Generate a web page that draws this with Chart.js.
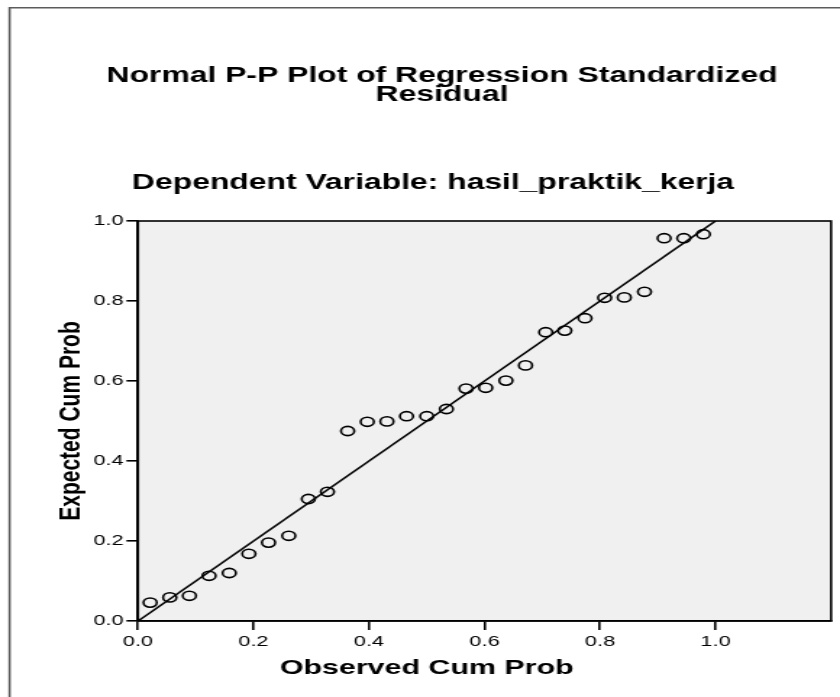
<!DOCTYPE html>
<html><head><meta charset="utf-8">
<script src="https://cdn.jsdelivr.net/npm/chart.js@4.4.0/dist/chart.umd.min.js"></script>
<style>
html,body{margin:0;padding:0;background:#fff;overflow:hidden;width:840px;height:697px;}
#wrap{position:absolute;left:0;top:0;width:580px;height:697px;transform:scaleX(1.4483);transform-origin:0 0;}
canvas{display:block;}
</style></head><body>
<div id="wrap"><canvas id="c" width="580" height="697"></canvas></div>
<script>
const titleLines = ["Normal P-P Plot of Regression Standardized", "Residual"];
const subtitleText = "Dependent Variable: hasil_praktik_kerja";
const xAxisTitle = "Observed Cum Prob";
const yAxisTitle = "Expected Cum Prob";
const tickValues = [0, 0.2, 0.4, 0.6, 0.8, 1.0];
const observedCumProb = [0.021,0.055,0.089,0.123,0.158,0.192,0.226,0.261,0.295,0.328,0.363,0.397,0.431,0.465,0.500,0.534,0.568,0.602,0.637,0.671,0.706,0.739,0.774,0.808,0.842,0.877,0.911,0.945,0.979];
const expectedCumProb = [0.046,0.059,0.063,0.113,0.120,0.168,0.196,0.213,0.305,0.323,0.475,0.498,0.499,0.512,0.512,0.530,0.581,0.583,0.601,0.639,0.722,0.726,0.757,0.808,0.809,0.823,0.957,0.957,0.967];
const refLineX = [0, 1];
const refLineY = [0, 1];

const S = 1.4483;
const FONT = '"Liberation Sans", Arial, Helvetica, sans-serif';

const decor = {
  id: 'decor',
  beforeDraw(chart) {
    const {ctx, chartArea: a} = chart;
    ctx.save();
    ctx.fillStyle = '#f0f0f0';
    ctx.fillRect(a.left, a.top, a.right - a.left, a.bottom - a.top);
    ctx.strokeStyle = '#5c5c5c';
    ctx.lineWidth = 1.6;
    ctx.beginPath();
    ctx.moveTo(6.6, 900); ctx.lineTo(6.6, 7.8); ctx.lineTo(900, 7.8);
    ctx.stroke();
    ctx.fillStyle = '#000';
    ctx.textAlign = 'center';
    ctx.textBaseline = 'middle';
    const cx = 442 / S;
    ctx.font = 'bold 22px ' + FONT;
    ctx.fillText(titleLines[0], cx, 76);
    ctx.fillText(titleLines[1], cx, 95);
    ctx.fillText(subtitleText, 433 / S, 183);
    const xs = chart.scales.x;
    ctx.font = 'bold 21px ' + FONT;
    ctx.fillText(xAxisTitle, xs.getPixelForValue(0.5), 668);
    ctx.save();
    ctx.translate(71 / S, (a.top + a.bottom) / 2);
    ctx.rotate(-Math.PI / 2);
    ctx.font = 'bold 21px ' + FONT;
    ctx.fillText(yAxisTitle, 0, 0);
    ctx.restore();
    ctx.restore();
  },
  afterDraw(chart) {
    const {ctx, chartArea: a} = chart;
    ctx.save();
    ctx.strokeStyle = '#000';
    ctx.lineWidth = 1.6;
    ctx.strokeRect(a.left, a.top, a.right - a.left, a.bottom - a.top);
    ctx.restore();
  }
};

new Chart(document.getElementById('c'), {
  type: 'scatter',
  data: {
    datasets: [
      {
        type: 'line',
        data: refLineX.map((x, i) => ({x: x, y: refLineY[i]})),
        borderColor: '#000',
        borderWidth: 1.6,
        pointRadius: 0,
        fill: false,
        order: 2
      },
      {
        data: observedCumProb.map((x, i) => ({x: x, y: expectedCumProb[i]})),
        pointStyle: 'circle',
        pointRadius: 4.6,
        borderWidth: 1.6,
        borderColor: '#000',
        backgroundColor: 'rgba(0,0,0,0)',
        order: 1
      }
    ]
  },
  options: {
    responsive: false,
    animation: false,
    layout: {padding: {top: 221, right: 3.5, left: 0, bottom: 0}},
    plugins: {legend: {display: false}, tooltip: {enabled: false}, title: {display: false}},
    scales: {
      x: {
        type: 'linear', min: 0, max: 1.2,
        afterBuildTicks: s => { s.ticks = tickValues.map(v => ({value: v})); },
        afterFit: s => { s.height = 76; },
        grid: {drawOnChartArea: false, drawTicks: true, tickLength: 9, color: '#000', lineWidth: 1.6},
        border: {display: true, color: '#000', width: 1.6},
        ticks: {color: '#000', font: {family: FONT, size: 15}, padding: 3, callback: v => Number(v).toFixed(1), maxRotation: 0, autoSkip: false}
      },
      y: {
        type: 'linear', min: 0, max: 1,
        afterBuildTicks: s => { s.ticks = tickValues.map(v => ({value: v})); },
        afterFit: s => { s.width = 138 / S; },
        grid: {drawOnChartArea: false, drawTicks: true, tickLength: 8, color: '#000', lineWidth: 1.6},
        border: {display: true, color: '#000', width: 1.6},
        ticks: {color: '#000', font: {family: FONT, size: 15}, padding: 2, callback: v => Number(v).toFixed(1), autoSkip: false}
      }
    }
  },
  plugins: [decor]
});
</script>
</body></html>
